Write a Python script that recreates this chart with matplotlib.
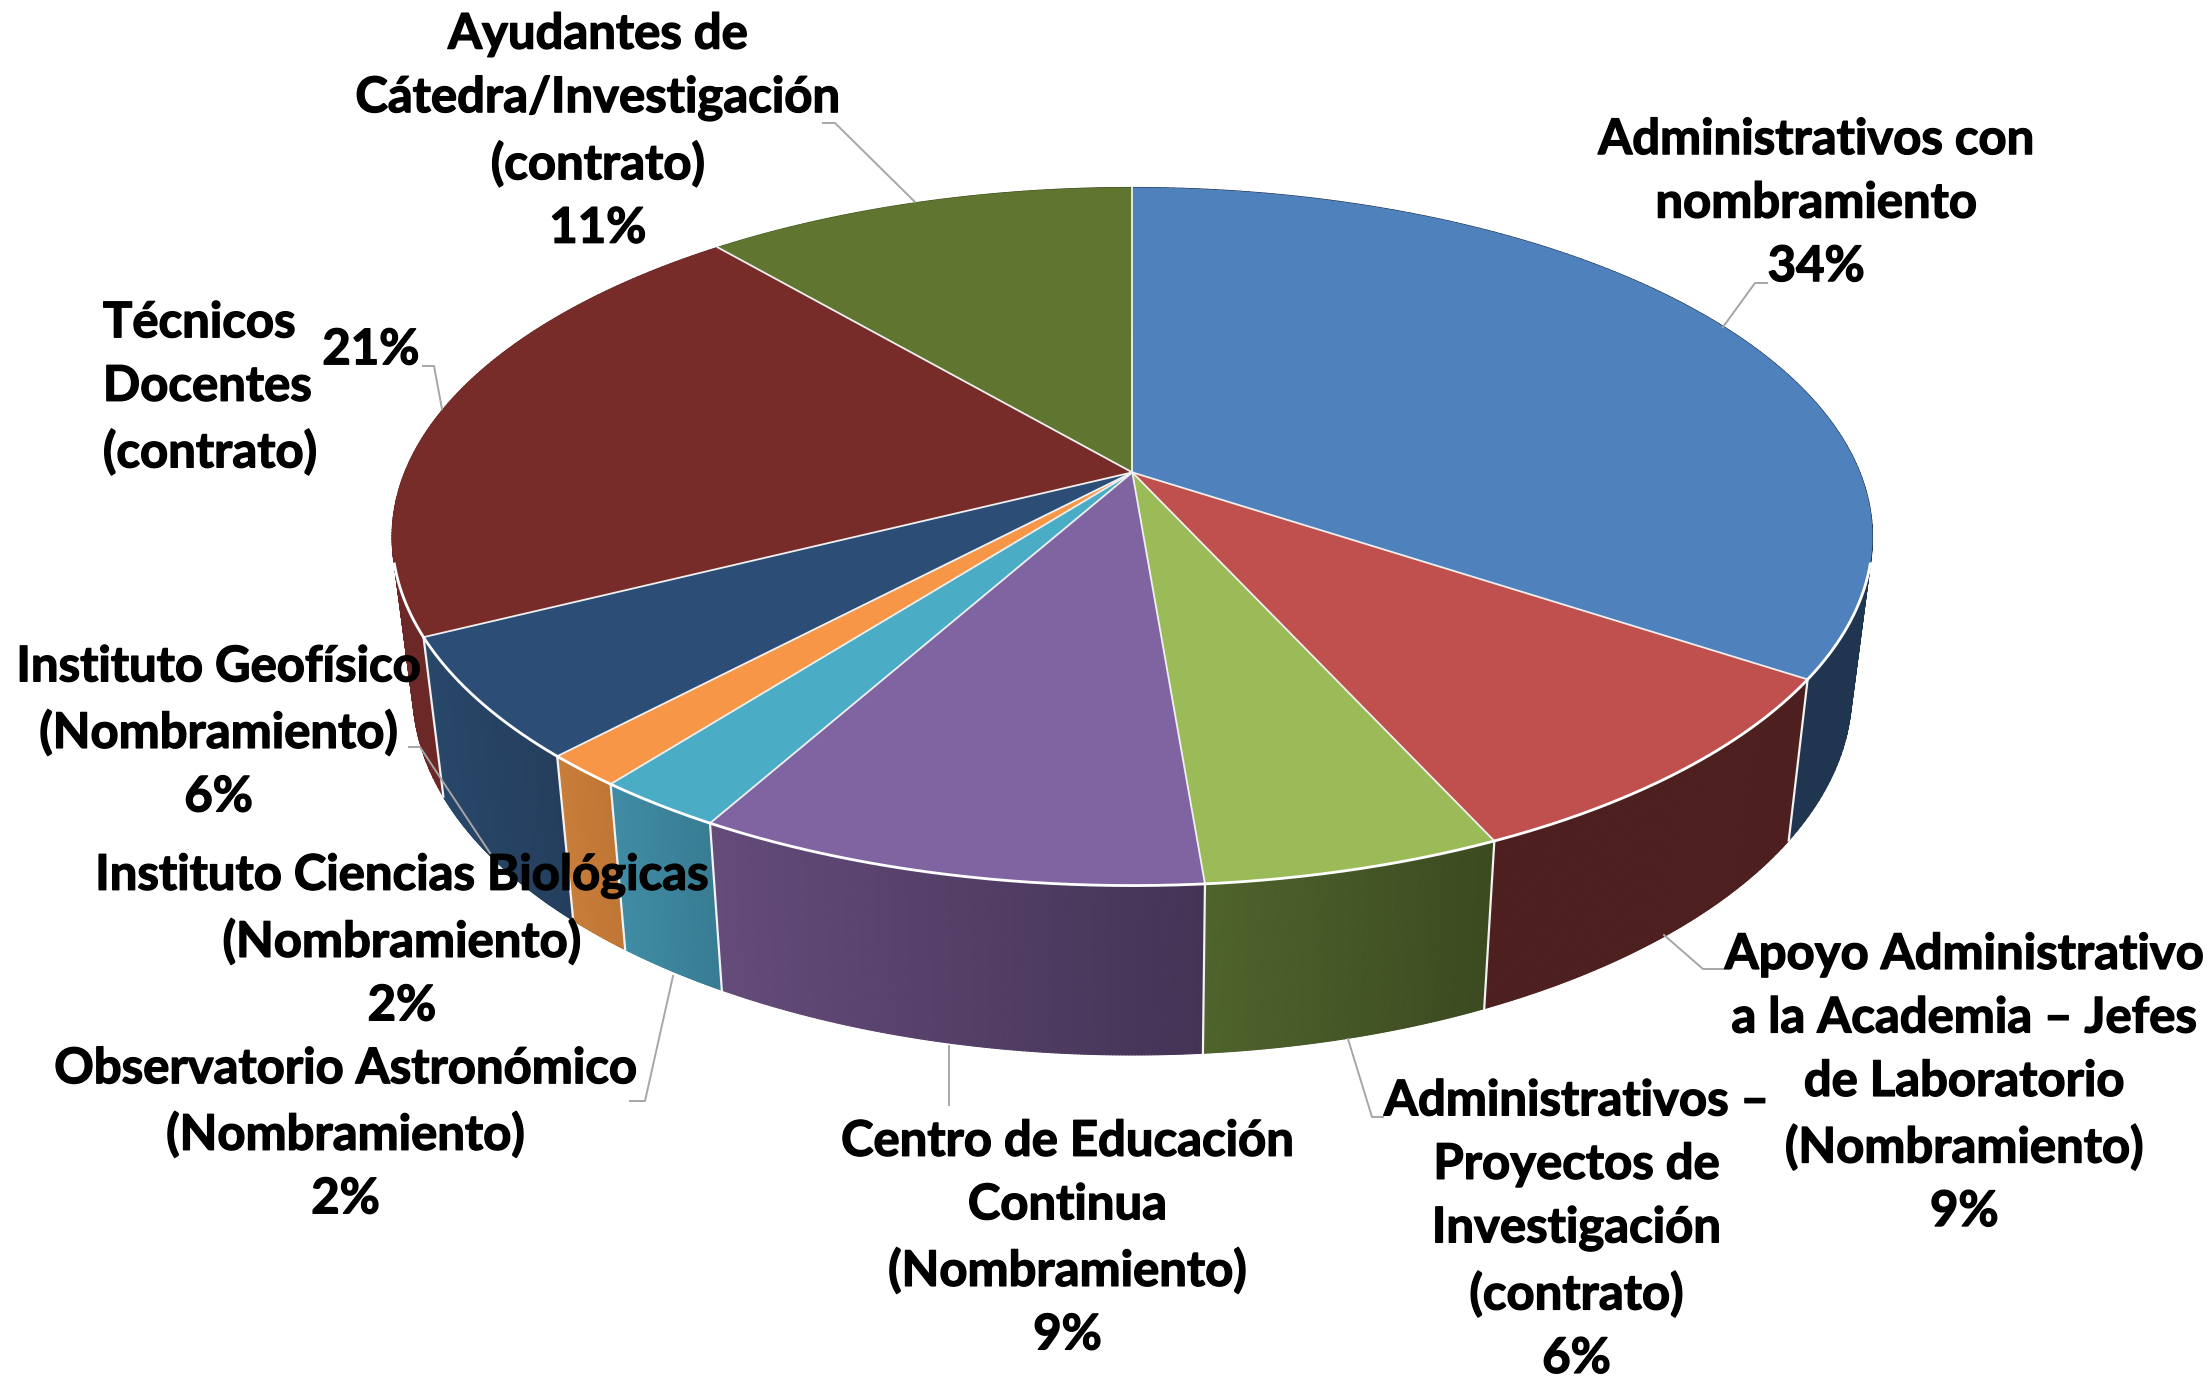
import numpy as np
import matplotlib
matplotlib.use('Agg')
import matplotlib.pyplot as plt
import matplotlib.patheffects as pe
from matplotlib.patches import Polygon
from matplotlib.collections import PolyCollection
from matplotlib.colors import to_rgb

# categorias en el orden de las agujas del reloj, desde arriba
categorias = [
    'Administrativos con\nnombramiento',
    'Apoyo Administrativo\na la Academia – Jefes\nde Laboratorio\n(Nombramiento)',
    'Administrativos –\nProyectos de\nInvestigación\n(contrato)',
    'Centro de Educación\nContinua\n(Nombramiento)',
    'Observatorio Astronómico\n(Nombramiento)',
    'Instituto Ciencias Biológicas\n(Nombramiento)',
    'Instituto Geofísico\n(Nombramiento)',
    'Técnicos\nDocentes\n(contrato)',
    'Ayudantes de\nCátedra/Investigación\n(contrato)',
]
# porcentajes estimados del dibujo
valores = [34.3, 8.9, 5.5, 9.4, 2.4, 1.5, 5.6, 21.15, 11.25]

color_top = ['#4f81bd', '#c0504d', '#9bbb59', '#8064a2', '#4bacc6',
             '#f79646', '#2c4d75', '#772c2a', '#5f7530']
# lateral: color izquierda / derecha
color_lado_izq = ['#1f3550', '#4e1f1f', '#4f632c', '#644b7a', '#408ca4',
                  '#c97d3a', '#284769', '#6c2827', '#4f632c']
color_lado_der = ['#1f3550', '#4e1f1f', '#3c4a20', '#443355', '#377c93',
                  '#bf7534', '#253e5e', '#5f2322', '#3c4a20']

W, H = 2211, 1377
S = 2211 / 1568  # todo medido en la imagen reducida

# posicion de cada etiqueta (x, y centro del bloque) y alineacion
pos_etq = [(1288, 144), (1393, 768), (1118, 872), (757, 878), (245, 804),
           (285, 667), (155, 519), (73, 275), (424, 93)]
# lineas guia en pixeles de la imagen completa
guias = [
    [(1723, 327), (1755, 283), (1767, 283)],
    [(1664, 935), (1703, 969), (1723, 969)],
    [(1348, 1039), (1372, 1117), (1383, 1117)],
    [(949, 1046), (949, 1105)],
    [(673, 976), (645, 1101), (630, 1101)],
    [(409, 747), (420, 747), (492, 856)],
    [(823, 123), (835, 123), (915, 202)],
    [(423, 366), (434, 366), (442, 409)],
]


def proyectar(theta):
    # circulo unidad -> perspectiva de la tapa
    u, v = np.sin(theta), np.cos(theta)
    d = 1 + 0.1838 * v
    x = 803 + 516 * u / d
    y = (-177.6 * v + 335) / d
    return x, y


def base(x, y):
    return 803 + (x - 803) * 0.972, 1.04 * y + 95


plt.rcParams['font.family'] = ['Lato', 'DejaVu Sans']
fig = plt.figure(figsize=(W / 100, H / 100), dpi=100)
ax = fig.add_axes([0, 0, 1, 1])
ax.set_xlim(0, W)
ax.set_ylim(H, 0)
ax.axis('off')

bordes = np.concatenate([[0], np.cumsum(valores)]) / np.sum(valores) * 2 * np.pi
cx, cy = 803 * S, 335 * S

# laterales, de atras hacia adelante
orden = sorted(range(len(valores)), key=lambda i: -np.cos((bordes[i] + bordes[i + 1]) / 2))
for i in orden:
    t = np.linspace(bordes[i], bordes[i + 1], 160)
    x, y = proyectar(t)
    xb, yb = base(x, y)
    polys = []
    cols = []
    c0, c1 = np.array(to_rgb(color_lado_izq[i])), np.array(to_rgb(color_lado_der[i]))
    xmin, xmax = x.min(), x.max()
    for j in range(len(t) - 1):
        polys.append([(x[j] * S, y[j] * S), (x[j + 1] * S, y[j + 1] * S),
                      (xb[j + 1] * S, yb[j + 1] * S), (xb[j] * S, yb[j] * S)])
        f = ((x[j] + x[j + 1]) / 2 - xmin) / (xmax - xmin)
        cols.append(c0 + (c1 - c0) * f)
    ax.add_collection(PolyCollection(polys, facecolors=cols, edgecolors=cols, linewidths=0.8, zorder=1))

# costuras blancas del lateral
for b in bordes[:-1]:
    x, y = proyectar(b)
    xb, yb = base(x, y)
    if np.cos(b) < 0.1:
        ax.plot([x * S, xb * S], [y * S, yb * S], color='#f2f2f2', lw=1.6, zorder=2)

# tapa
for i in range(len(valores)):
    t = np.linspace(bordes[i], bordes[i + 1], 160)
    x, y = proyectar(t)
    pts = np.column_stack([np.r_[803, x] * S, np.r_[335, y] * S])
    ax.add_patch(Polygon(pts, closed=True, facecolor=color_top[i], edgecolor='none', zorder=3))

# radios y borde delantero
for b in bordes[:-1]:
    x, y = proyectar(b)
    ax.plot([cx, x * S], [cy, y * S], color='#f0f0f0', lw=1.3, zorder=4)
t = np.linspace(0, 2 * np.pi, 800)
x, y = proyectar(t)
x_b, y_b = x[y > 398], y[y > 398]
orden_x = np.argsort(x_b)
ax.plot(x_b[orden_x] * S, y_b[orden_x] * S, color='white', lw=2.0, zorder=4)

for g in guias:
    ax.plot([p[0] for p in g], [p[1] for p in g], color='#a6a6a6', lw=1.4, zorder=5)

grueso = [pe.withStroke(linewidth=1.0, foreground='black')]
for i, nombre in enumerate(categorias):
    etq = nombre + '\n' + f'{valores[i]:.0f}%'
    ha = 'center'
    if i == 7:
        # Tecnicos Docentes: el porcentaje va aparte
        etq = nombre
        ha = 'left'
        ax.text(263 * S, 248 * S, f'{valores[i]:.0f}%', fontsize=35.3, fontweight='bold',
                ha='center', va='center', color='black', zorder=6, path_effects=grueso)
    ax.text(pos_etq[i][0] * S, pos_etq[i][1] * S, etq, fontsize=35.3, fontweight='bold',
            ha=ha, va='center', multialignment=ha, linespacing=1.5, color='black', zorder=6,
            path_effects=grueso)

fig.savefig('out.png', dpi=100, facecolor='white')
